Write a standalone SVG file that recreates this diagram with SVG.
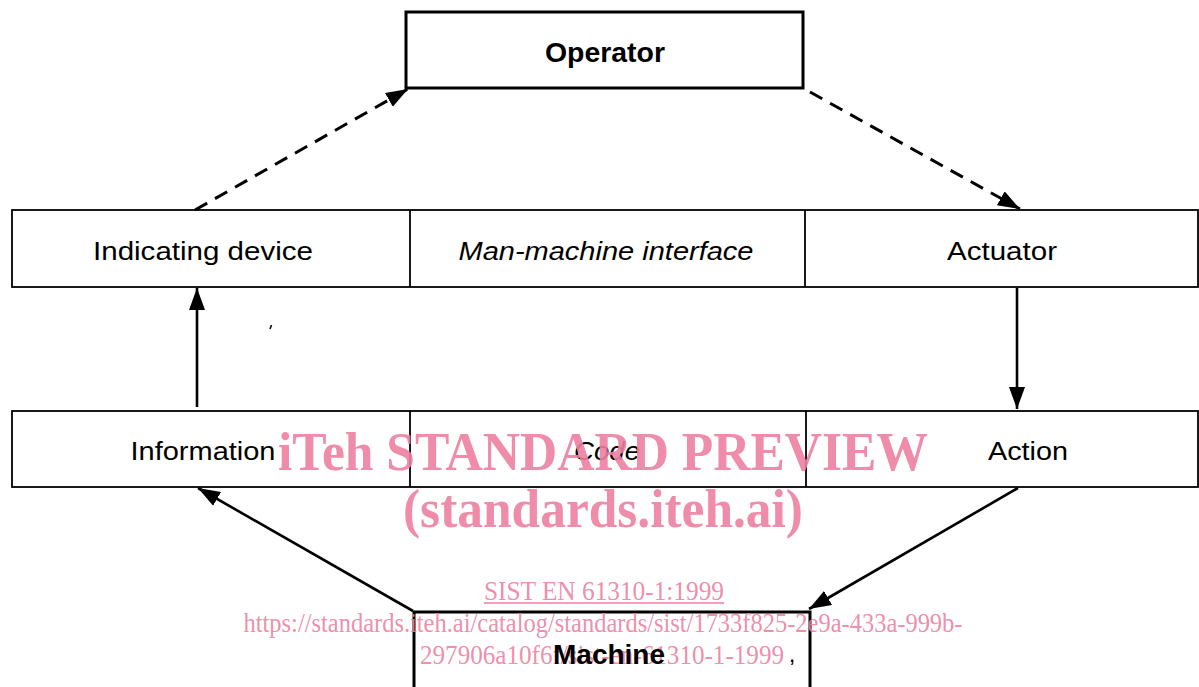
<svg xmlns="http://www.w3.org/2000/svg" width="1199" height="687" viewBox="0 0 1199 687">
  <style>
    .box { fill: #ffffff; stroke: #000000; stroke-width: 1.8; }
    .heavy { fill: #ffffff; stroke: #000000; stroke-width: 3; }
    .lbl { font-family: "Liberation Sans", Arial, sans-serif; font-size: 26px; fill: #000000; text-anchor: middle; }
    .bold { font-weight: bold; font-size: 27px; }
    .ital { font-style: italic; }
    .edge { fill: none; stroke: #000000; stroke-width: 2.6; }
    .dash { stroke-dasharray: 14 9; stroke-width: 3; }
    .wm { font-family: "Liberation Serif", "Times New Roman", serif; fill: #ec7fa0; fill-opacity: 0.9; text-anchor: middle; }
    .wm-big { font-size: 54px; font-weight: bold; }
    .wm-small { font-size: 28px; }
  </style>
  <defs>
    <marker id="head" markerUnits="userSpaceOnUse" markerWidth="24" markerHeight="18" refX="22" refY="8" orient="auto">
      <path d="M0,0 L22,8 L0,16 Z" fill="#000000"/>
    </marker>
  </defs>

  <rect width="1199" height="687" fill="#ffffff"/>

  <g id="operator">
    <rect class="heavy" x="406" y="12" width="397" height="76"/>
    <text class="lbl bold" x="605" y="62" textLength="120" lengthAdjust="spacingAndGlyphs">Operator</text>
  </g>

  <g id="interface-row">
    <rect class="box" x="12" y="210" width="1186" height="77"/>
    <line x1="410" y1="210" x2="410" y2="287" stroke="#000" stroke-width="1.8"/>
    <line x1="805" y1="210" x2="805" y2="287" stroke="#000" stroke-width="1.8"/>
  </g>
  <g id="indicating-device">
    <text class="lbl" x="203" y="260" textLength="220" lengthAdjust="spacingAndGlyphs">Indicating device</text>
  </g>
  <g id="man-machine-interface">
    <text class="lbl ital" x="606" y="260" textLength="295" lengthAdjust="spacingAndGlyphs">Man-machine interface</text>
  </g>
  <g id="actuator">
    <text class="lbl" x="1002" y="260" textLength="110" lengthAdjust="spacingAndGlyphs">Actuator</text>
  </g>

  <g id="code-row">
    <rect class="box" x="12" y="411" width="1186" height="76"/>
    <line x1="410" y1="411" x2="410" y2="487" stroke="#000" stroke-width="1.8"/>
    <line x1="806" y1="411" x2="806" y2="487" stroke="#000" stroke-width="1.8"/>
  </g>
  <g id="information">
    <text class="lbl" x="203" y="460" textLength="145" lengthAdjust="spacingAndGlyphs">Information</text>
  </g>
  <g id="code">
    <text class="lbl ital" x="607" y="460" textLength="66" lengthAdjust="spacingAndGlyphs">Code</text>
  </g>
  <g id="action">
    <text class="lbl" x="1028" y="460" textLength="80" lengthAdjust="spacingAndGlyphs">Action</text>
  </g>

  <g id="machine">
    <rect class="heavy" x="414" y="612" width="396" height="90"/>
  </g>

  <g id="connectors">
    <line class="edge dash" x1="195" y1="210" x2="408" y2="89" marker-end="url(#head)"/>
    <line class="edge dash" x1="810" y1="92" x2="1020" y2="209" marker-end="url(#head)"/>
    <line class="edge" x1="197" y1="407" x2="197" y2="288" marker-end="url(#head)"/>
    <line class="edge" x1="1017" y1="288" x2="1017" y2="409" marker-end="url(#head)"/>
    <line class="edge" x1="413" y1="611" x2="198" y2="488" marker-end="url(#head)"/>
    <line class="edge" x1="1018" y1="488" x2="809" y2="609" marker-end="url(#head)"/>
    <!-- stray mark left on the drawing -->
    <line x1="270" y1="329" x2="271.5" y2="325" stroke="#000" stroke-width="1.6"/>
  </g>

  <g id="watermark">
    <text class="wm wm-big" x="603" y="470" textLength="650" lengthAdjust="spacingAndGlyphs">iTeh STANDARD PREVIEW</text>
    <text class="wm wm-big" x="603" y="527" textLength="400" lengthAdjust="spacingAndGlyphs">(standards.iteh.ai)</text>
    <text class="wm wm-small" x="604" y="600" textLength="240" lengthAdjust="spacingAndGlyphs">SIST EN 61310-1:1999</text>
    <line x1="484" y1="603" x2="724" y2="603" stroke="#ec7fa0" stroke-width="1.3"/>
    <text class="wm wm-small" x="603" y="632" textLength="719" lengthAdjust="spacingAndGlyphs">https://standards.iteh.ai/catalog/standards/sist/1733f825-2e9a-433a-999b-</text>
    <text class="wm wm-small" x="602" y="664" textLength="364" lengthAdjust="spacingAndGlyphs">297906a10f6f/sist-en-61310-1-1999</text>
  </g>

  <g id="machine-label">
    <text class="lbl bold" x="609" y="664" textLength="112" lengthAdjust="spacingAndGlyphs">Machine</text>
    <text class="lbl" x="792" y="662" style="font-size:24px">,</text>
  </g>
</svg>
